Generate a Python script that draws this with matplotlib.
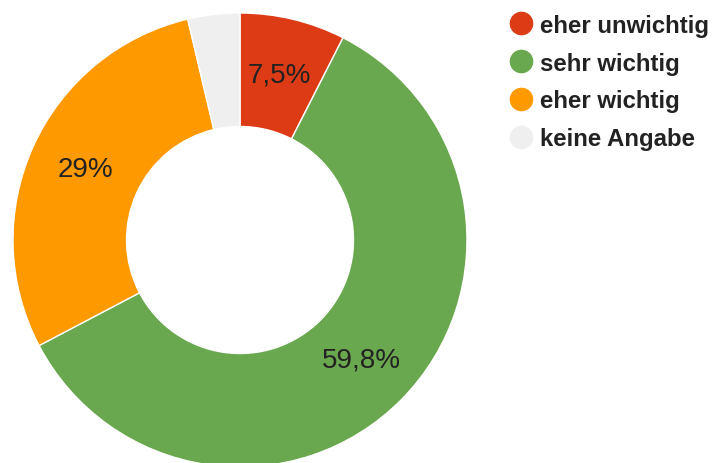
import matplotlib
matplotlib.use("Agg")
import matplotlib.pyplot as plt
from matplotlib.lines import Line2D

categories = ["eher unwichtig", "sehr wichtig", "eher wichtig", "keine Angabe"]
values = [7.5, 59.8, 29.0, 3.7]
colors = ["#dc3b15", "#6aa84f", "#ff9900", "#efefef"]

W, H = 713, 464
fig = plt.figure(figsize=(W / 100, H / 100), dpi=100)
fig.patch.set_facecolor("white")

# donut centre and outer radius in pixels
cx, cy, R = 240, 241, 227
ax = fig.add_axes([(cx - R) / W, (H - cy - R) / H, 2 * R / W, 2 * R / H])


def fmt(p):
    if p < 5:
        return ""
    s = f"{p:.1f}"
    if s.endswith(".0"):
        s = s[:-2]
    return s.replace(".", ",") + "%"


wedges, texts, autotexts = ax.pie(
    values, colors=colors, startangle=90, counterclock=False, radius=1,
    wedgeprops=dict(width=0.5, edgecolor="white", linewidth=1),
    autopct=fmt, pctdistance=0.75,
    textprops=dict(fontsize=20, color="#222222", family="Liberation Sans"),
)
ax.set_xlim(-1, 1)
ax.set_ylim(-1, 1)
ax.set_aspect("equal")
ax.axis("off")

handles = [Line2D([], [], marker="o", linestyle="none", markersize=16,
                  markerfacecolor=c, markeredgecolor=c) for c in colors]
fig.legend(handles, categories, loc="upper left",
           bbox_to_anchor=(498 / W, 1 - 5 / H), frameon=False,
           prop=dict(family="Liberation Sans", weight="bold", size=17.3),
           labelcolor="#222222", handletextpad=0.25, labelspacing=0.62,
           handlelength=1.1, borderaxespad=0)

fig.savefig("out.png", dpi=100, facecolor="white")
